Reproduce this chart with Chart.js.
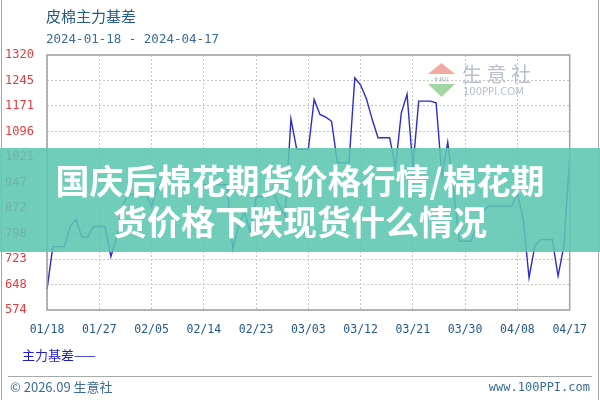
<!DOCTYPE html>
<html>
<head>
<meta charset="utf-8">
<script src="https://cdn.jsdelivr.net/npm/chart.js@4/dist/chart.umd.min.js"></script>
<style>
  body { margin: 0; background: #fff; }
  #wrap { position: relative; width: 600px; height: 400px; overflow: hidden; background: #fff; font-family: "Noto Sans CJK SC", sans-serif; }
  #wrap canvas { position: absolute; left: 0; top: 0; }
  .frame { position: absolute; top: 0; bottom: 0; width: 1px; background: #a8a8a8; }
  #title { position: absolute; left: 46px; top: 5px; font-size: 15px; line-height: 22px; color: #245a8c; }
  #sub { position: absolute; left: 46px; top: 30px; font: 12.5px/18px "DejaVu Sans Mono", monospace; color: #3b6b97; }
  #legend { position: absolute; left: 22px; top: 345px; font-size: 13px; line-height: 20px; color: #1c1ccc; }
  #sep { position: absolute; left: 8px; width: 584px; top: 376px; border-top: 1px solid #a8a8a8; }
  #foot-l { position: absolute; left: 10px; top: 377px; font-size: 13px; line-height: 20px; color: #3b6b97; }
  #foot-r { position: absolute; right: 10px; top: 377px; font: 12px/20px "DejaVu Sans Mono", monospace; color: #3b6b97; }
  #banner { position: absolute; left: 0; top: 148px; width: 600px; height: 104px; background: rgba(91, 198, 175, 0.88);
            color: #fff; font-weight: bold; font-size: 34px; line-height: 41px; text-align: center; padding-top: 11px; box-sizing: border-box; }
</style>
</head>
<body>
<div id="wrap">
  <canvas id="basisChart" width="600" height="400"></canvas>
  <div class="frame" style="left:1px"></div>
  <div class="frame" style="left:598px"></div>
  <div id="title">皮棉主力基差</div>
  <div id="sub">2024-01-18 - 2024-04-17</div>
  <div id="legend">主力基差——</div>
  <div id="sep"></div>
  <div id="foot-l">© 2026.09 生意社</div>
  <div id="foot-r">www.100PPI.com</div>
  <div id="banner">国庆后棉花期货价格行情/棉花期<br>货价格下跌现货什么情况</div>
</div>
<script>
const dates = [
    '01/18', '01/19', '01/20', '01/21', '01/22', '01/23', '01/24', '01/25', '01/26', '01/27',
    '01/28', '01/29', '01/30', '01/31', '02/01', '02/02', '02/03', '02/04', '02/05', '02/06',
    '02/07', '02/08', '02/09', '02/10', '02/11', '02/12', '02/13', '02/14', '02/15', '02/16',
    '02/17', '02/18', '02/19', '02/20', '02/21', '02/22', '02/23', '02/24', '02/25', '02/26',
    '02/27', '02/28', '02/29', '03/01', '03/02', '03/03', '03/04', '03/05', '03/06', '03/07',
    '03/08', '03/09', '03/10', '03/11', '03/12', '03/13', '03/14', '03/15', '03/16', '03/17',
    '03/18', '03/19', '03/20', '03/21', '03/22', '03/23', '03/24', '03/25', '03/26', '03/27',
    '03/28', '03/29', '03/30', '03/31', '04/01', '04/02', '04/03', '04/04', '04/05', '04/06',
    '04/07', '04/08', '04/09', '04/10', '04/11', '04/12', '04/13', '04/14', '04/15', '04/16',
    '04/17'
];

// 主力基差
const basis = [
    634, 759, 759, 759, 818, 839, 787, 787, 818, 818,
    818, 730, 786, 878, 912, 912, 912, 912, 878, 930,
    952, 945, 940, 940, 940, 940, 940, 940, 940, 940,
    940, 940, 752, 820, 863, 800, 905, 905, 905, 917,
    878, 848, 1133, 1044, 1044, 1044, 1190, 1146, 1138, 1126,
    1005, 1005, 1005, 1253, 1232, 1192, 1131, 1078, 1078, 1078,
    990, 1150, 1205, 990, 1185, 1185, 1185, 1180, 966, 1065,
    925, 775, 775, 775, 820, 860, 878, 878, 878, 878,
    878, 915, 840, 668, 761, 780, 780, 780, 673, 761,
    1021
];

const xTickLabels = ['01/18', '01/27', '02/05', '02/14', '02/23', '03/03', '03/12', '03/21', '03/30', '04/08', '04/17'];
const yTickLabels = [574, 648, 723, 798, 872, 947, 1021, 1096, 1171, 1245, 1320];
const yMin = 573.6;
const yMax = 1320;

(() => {
    // 水印 + 边框
    const decorPlugin = {
        id: 'decor',
        beforeDatasetsDraw(chart) {
            const ctx = chart.ctx;
            ctx.save();
            ctx.fillStyle = 'rgba(236,140,130,0.75)';
            ctx.beginPath();
            ctx.moveTo(441.5, 63); ctx.lineTo(455, 74); ctx.lineTo(428, 74); ctx.closePath();
            ctx.fill();
            ctx.fillStyle = 'rgba(130,200,130,0.75)';
            ctx.beginPath();
            ctx.moveTo(428, 84); ctx.lineTo(455, 84); ctx.lineTo(441.5, 97); ctx.closePath();
            ctx.fill();
            ctx.fillStyle = 'rgba(150,150,170,0.8)';
            ctx.font = '5px "Noto Sans CJK SC"';
            ctx.textAlign = 'center';
            ctx.textBaseline = 'middle';
            ctx.fillText('生意社', 441.5, 79);
            ctx.fillStyle = '#b9c0cc';
            ctx.font = '20px "Noto Sans CJK SC"';
            ctx.textAlign = 'left';
            ctx.fillText('生 意 社', 462, 74);
            ctx.font = '10px "DejaVu Sans"';
            ctx.fillText('100PPI.COM', 463, 92);
            ctx.restore();
        },
        afterDraw(chart) {
            const { ctx, chartArea: a } = chart;
            ctx.save();
            ctx.strokeStyle = '#a0a0a0';
            ctx.lineWidth = 1.5;
            ctx.strokeRect(a.left, a.top, a.right - a.left, a.bottom - a.top);
            ctx.restore();
        }
    };

    const canvas = document.getElementById('basisChart');
    new Chart(canvas.getContext('2d'), {
        type: 'line',
        data: {
            labels: dates,
            datasets: [{
                label: '主力基差',
                data: basis,
                borderColor: '#2b2bd0',
                borderWidth: 1.4,
                pointRadius: 0,
                tension: 0
            }]
        },
        options: {
            responsive: false,
            animation: false,
            layout: { padding: { left: 5, right: 23, top: 55, bottom: 60 } },
            plugins: { legend: { display: false }, tooltip: { enabled: false } },
            scales: {
                x: {
                    type: 'category',
                    offset: false,
                    border: { display: false, dash: [2, 2] },
                    grid: { color: '#c4c4c4', drawTicks: false },
                    afterBuildTicks: (scale) => {
                        scale.ticks = scale.ticks.filter(t => xTickLabels.includes(dates[t.value]));
                    },
                    afterFit: (scale) => { scale.height = 30; },
                    ticks: {
                        autoSkip: false,
                        maxRotation: 0,
                        padding: 13,
                        color: '#23578f',
                        font: { family: '"DejaVu Sans Mono", monospace', size: 11.5 }
                    }
                },
                y: {
                    min: yMin,
                    max: yMax,
                    border: { display: false, dash: [2, 2] },
                    grid: { color: '#c4c4c4', drawTicks: false },
                    afterBuildTicks: (scale) => {
                        scale.ticks = yTickLabels.map((v, i) => ({ value: yMin + i * (yMax - yMin) / (yTickLabels.length - 1) }));
                    },
                    afterFit: (scale) => { scale.width = 42; },
                    ticks: {
                        crossAlign: 'far',
                        color: '#e8383a',
                        font: { family: '"DejaVu Sans Mono", monospace', size: 12 },
                        callback: (v, i) => yTickLabels[i]
                    }
                }
            }
        },
        plugins: [decorPlugin]
    });
})();
</script>
</body>
</html>
